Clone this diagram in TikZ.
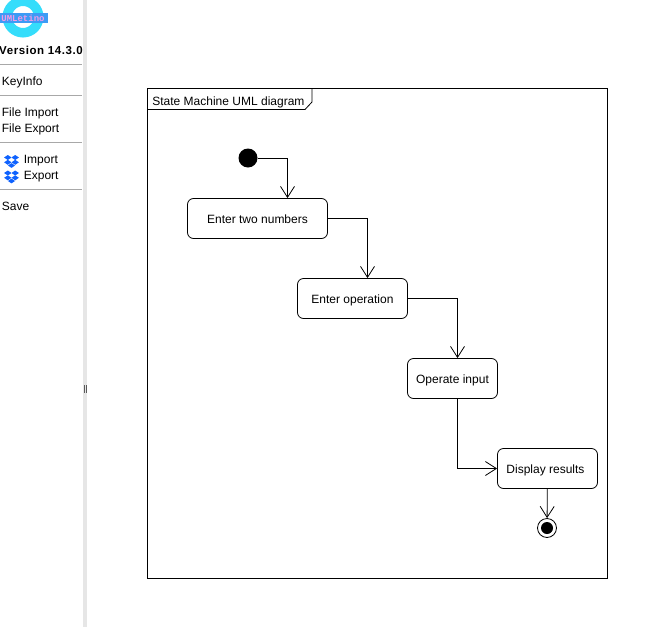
\documentclass[tikz,border=0pt]{standalone}
\usepackage{fontspec}
\setmainfont{Liberation Sans}
\newfontfamily\logofont{Liberation Mono}
\usetikzlibrary{arrows.meta}
\definecolor{ringcol}{HTML}{35DDFB}
\definecolor{bandcol}{HTML}{3D9BF5}
\definecolor{logotext}{HTML}{F29AE6}
\definecolor{dropcol}{HTML}{0F62FE}
\definecolor{barcol}{HTML}{E6E6E6}
\definecolor{rulecol}{HTML}{A8A8A8}
\tikzset{
  statebox/.style={draw, rounded corners=6pt, minimum height=40pt, inner sep=0pt, text height=11pt, text depth=1pt, font=\fontsize{12}{14}\selectfont},
  menuitem/.style={anchor=west, inner sep=0pt, text height=11pt, text depth=3pt, font=\fontsize{12}{14}\selectfont},
  flow/.style={draw, line width=0.8pt, -{Straight Barb[length=11pt,width=14pt,line width=0.8pt]}},
  menurule/.style={draw=rulecol, line width=0.8pt},
  dropbox/.pic={
    \foreach \dx/\dy in {-3.7/-3, 3.7/-3, -3.7/1.8, 3.7/1.8}
      \fill[dropcol] (\dx-3.7, \dy) -- (\dx, \dy-2.5) -- (\dx+3.7, \dy) -- (\dx, \dy+2.5) -- cycle;
    \fill[dropcol] (-3.6, 5) -- (0, 2.6) -- (3.6, 5) -- (0, 7.4) -- cycle;
  }
}
\begin{document}
\begin{tikzpicture}[x=1pt, y=-1pt, line width=0.8pt, >=latex]
\useasboundingbox (0, 0) rectangle (662, 627);

%%%%%%%%%%%% Sidebar
\fill[barcol] (83, 0) rectangle (87, 627);
\foreach \i in {84.3, 86} {
  \draw[black!65, line width=0.8pt] (\i, 385) -- +(0, 8);
}
\begin{scope}
  \clip (0, 0) rectangle (83, 627);
  \draw[ringcol, line width=9.5pt] (23, 17) circle (15.75);
  \fill[bandcol] (0, 13) rectangle (48, 22.5);
\end{scope}
\node[anchor=center, inner sep=0pt, text=logotext, font=\logofont\bfseries\fontsize{9}{9}\selectfont] (logo) at (23, 18) {UMLetino};
\node[inner sep=0pt, font=\bfseries\fontsize{11.5}{14}\selectfont] (version) at (41, 50.5) {\addfontfeatures{LetterSpace=5}Version 14.3.0};
\foreach \i in {64.5, 95.5, 142.5, 189.5} {
  \draw[menurule] (0, \i) -- (82, \i);
}
\node[menuitem] (keyinfo) at (1.5, 81) {KeyInfo};
\node[menuitem] (fileimport) at (1.5, 112) {File Import};
\node[menuitem] (fileexport) at (1.5, 128) {File Export};
\node[menuitem] (dropimport) at (23.5, 159) {Import};
\node[menuitem] (dropexport) at (23.5, 175) {Export};
\node[menuitem] (save) at (1.5, 206) {Save};
\pic at (11.5, 160.5) {dropbox};
\pic at (11.5, 176) {dropbox};

%%%%%%%%%%%% State machine frame
\draw[fill=white] (147.5, 88.5) rectangle (607.5, 578.5);
\draw (147.5, 109.5) -- (305, 109.5) -- (312, 102) -- (312, 88.5);
\node[menuitem] (title) at (152, 101) {State Machine UML diagram};

%%%%%%%%%%%% States
\node[circle, fill=black, minimum size=19pt, inner sep=0pt] (start) at (248, 158) {};
\node[statebox, minimum width=140pt] (numbers) at (257.5, 218.5) {Enter two numbers};
\node[statebox, minimum width=110pt] (operation) at (352.5, 298.5) {Enter operation};
\node[statebox, minimum width=90pt] (operate) at (452.5, 378.5) {Operate input};
\node[statebox, minimum width=100pt] (display) at (547.5, 468.5) {Display results\hspace*{4pt}};
\node[circle, draw, minimum size=19pt, inner sep=0pt] (stop) at (547, 528) {};
\node[circle, fill=black, minimum size=12pt, inner sep=0pt] (stopdot) at (547, 528) {};

\draw[flow] (start) -| ([xshift=30pt]numbers.north);
\draw[flow] (numbers) -| ([xshift=15pt]operation.north);
\draw[flow] (operation) -| ([xshift=5pt]operate.north);
\draw[flow] ([xshift=5pt]operate.south) |- (display);
\draw[flow] (display) -- (stop);
\end{tikzpicture}
\end{document}
